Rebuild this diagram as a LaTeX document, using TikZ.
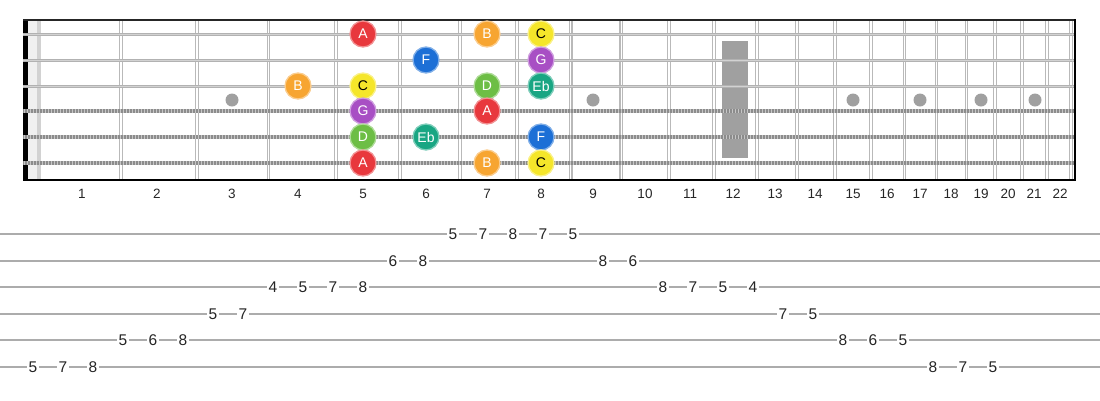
\documentclass[tikz,border=0pt]{standalone}
\usepackage{fontspec}
\setmainfont{Liberation Sans}
\definecolor{cA}{HTML}{E8383D}
\definecolor{cB}{HTML}{F7A531}
\definecolor{cC}{HTML}{F5E62A}
\definecolor{cD}{HTML}{6DBE45}
\definecolor{cEb}{HTML}{19A683}
\definecolor{cF}{HTML}{1C6FD6}
\definecolor{cG}{HTML}{A84FC4}
\definecolor{inlay}{HTML}{A0A0A0}
\tikzset{
  fretline/.style={draw=gray!55, line width=1.1pt, double=white, double distance=1.6pt},
  plainstring/.style={draw=gray!60, line width=3pt},
  plaincore/.style={draw=gray!35, line width=1pt},
  woundbase/.style={draw=gray!45, line width=4.4pt},
  woundtick/.style={draw=gray!90, line width=4.4pt, dash pattern=on 0.7pt off 0.8pt},
  fretnum/.style={font=\fontsize{13.5}{15}\selectfont, text=black!85},
  note/.style={circle, minimum size=26pt, inner sep=0pt, line width=1.3pt, font=\fontsize{14}{16}\selectfont, text=white},
  tabline/.style={draw=gray!65, line width=1.4pt},
  tabnum/.style={fill=white, inner sep=1.6pt, font=\fontsize{15.5}{17}\selectfont, text=black!85}
}
\newcommand{\notecirc}[5]{% name, x, y, color, label
  \node[note, fill=#4, draw=#4!55!white] (#1) at (#2,#3) {#5};}
\begin{document}
\begin{tikzpicture}[x=1pt,y=-1pt]
\useasboundingbox (0,0) rectangle (1100,400);
% nut area
\fill[gray!12] (28,20) rectangle (41,180);
\fill[gray!35] (37,20) rectangle (41,180);
\fill[black] (23,20) rectangle (27.5,180);
% frets
\foreach \n in {1,...,22} {
  \pgfmathsetmacro\fx{41+1432*(1-pow(2,-\n/12))}
  \draw[fretline] (\fx,20) -- (\fx,180);
}
% inlays
\foreach \xx in {232,363,487,593,853,920,981,1035}
  \fill[inlay] (\xx,100) circle (6.5);
\fill[inlay] (722,41) rectangle (748,158);
% strings
\foreach \yy in {34,60,86} {
  \draw[plainstring] (23,\yy) -- (1075,\yy);
  \draw[plaincore] (23,\yy) -- (1075,\yy);
}
\foreach \yy in {111,137,163} {
  \draw[woundbase] (23,\yy) -- (1075,\yy);
  \draw[woundtick] (23,\yy) -- (1075,\yy);
}
% borders
\draw[black!85, line width=2pt] (23,20) -- (1075,20);
\draw[black, line width=2pt] (23,180) -- (1076,180);
\draw[black, line width=2pt] (1075,19) -- (1075,181);
% fret numbers
\foreach \xx [count=\i] in {82,157,232,298,363,426,487,541,593,645,690,733,775,815,853,887,920,951,981,1008,1034,1060}
  \node[fretnum] (fn\i) at (\xx,194) {\i};
% notes
\notecirc{s1a}{363}{34}{cA}{A}
\notecirc{s1b}{487}{34}{cB}{B}
\node[note, fill=cC, draw=cC!55!white, text=black] (s1c) at (541,34) {C};
\notecirc{s2a}{426}{60}{cF}{F}
\notecirc{s2b}{541}{60}{cG}{G}
\notecirc{s3a}{298}{86}{cB}{B}
\node[note, fill=cC, draw=cC!55!white, text=black] (s3b) at (363,86) {C};
\notecirc{s3c}{487}{86}{cD}{D}
\notecirc{s3d}{541}{86}{cEb}{Eb}
\notecirc{s4a}{363}{111}{cG}{G}
\notecirc{s4b}{487}{111}{cA}{A}
\notecirc{s5a}{363}{137}{cD}{D}
\notecirc{s5b}{426}{137}{cEb}{Eb}
\notecirc{s5c}{541}{137}{cF}{F}
\notecirc{s6a}{363}{163}{cA}{A}
\notecirc{s6b}{487}{163}{cB}{B}
\node[note, fill=cC, draw=cC!55!white, text=black] (s6c) at (541,163) {C};
% tab lines
\foreach \yy in {234,261,287,314,340,367}
  \draw[tabline] (0,\yy) -- (1100,\yy);
% tab numbers
\foreach \xx/\v [count=\i] in {453/5,483/7,513/8,543/7,573/5}
  \node[tabnum] (t1\i) at (\xx,234) {\v};
\foreach \xx/\v [count=\i] in {393/6,423/8,603/8,633/6}
  \node[tabnum] (t2\i) at (\xx,261) {\v};
\foreach \xx/\v [count=\i] in {273/4,303/5,333/7,363/8,663/8,693/7,723/5,753/4}
  \node[tabnum] (t3\i) at (\xx,287) {\v};
\foreach \xx/\v [count=\i] in {213/5,243/7,783/7,813/5}
  \node[tabnum] (t4\i) at (\xx,314) {\v};
\foreach \xx/\v [count=\i] in {123/5,153/6,183/8,843/8,873/6,903/5}
  \node[tabnum] (t5\i) at (\xx,340) {\v};
\foreach \xx/\v [count=\i] in {33/5,63/7,93/8,933/8,963/7,993/5}
  \node[tabnum] (t6\i) at (\xx,367) {\v};
\end{tikzpicture}
\end{document}
